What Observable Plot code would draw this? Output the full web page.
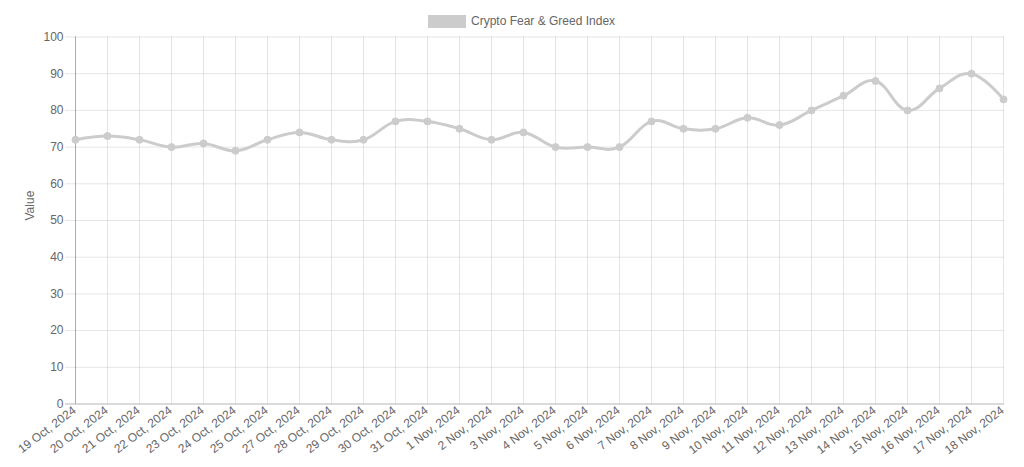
<!DOCTYPE html>
<html>
<head>
<meta charset="utf-8">
<script src="https://cdn.jsdelivr.net/npm/d3@7"></script>
<script src="https://cdn.jsdelivr.net/npm/@observablehq/plot@0.6"></script>
<style>
  html, body { margin: 0; padding: 0; background: #fff; }
  body { width: 1024px; height: 467px; overflow: hidden; font-family: "Liberation Sans", Arial, Helvetica, sans-serif; }
  #legend { position: relative; height: 30px; }
  #legend .box { position: absolute; left: 428px; top: 15px; width: 38px; height: 13px; background: #cccccc; }
  #legend .lbl { position: absolute; left: 471px; top: 14px; font-size: 12px; color: #666; line-height: 14px; }
  #chart svg { display: block; }
</style>
</head>
<body>
<div id="legend"><div class="box"></div><div class="lbl">Crypto Fear &amp; Greed Index</div></div>
<div id="chart"></div>
<script>
const dates = ["19 Oct, 2024","20 Oct, 2024","21 Oct, 2024","22 Oct, 2024","23 Oct, 2024","24 Oct, 2024","25 Oct, 2024","27 Oct, 2024","28 Oct, 2024","29 Oct, 2024","30 Oct, 2024","31 Oct, 2024","1 Nov, 2024","2 Nov, 2024","3 Nov, 2024","4 Nov, 2024","5 Nov, 2024","6 Nov, 2024","7 Nov, 2024","8 Nov, 2024","9 Nov, 2024","10 Nov, 2024","11 Nov, 2024","12 Nov, 2024","13 Nov, 2024","14 Nov, 2024","15 Nov, 2024","16 Nov, 2024","17 Nov, 2024","18 Nov, 2024"];
const values = [72,73,72,70,71,69,72,74,72,72,77,77,75,72,74,70,70,70,77,75,75,78,76,80,84,88,80,86,90,83];
const yTicks = [0,10,20,30,40,50,60,70,80,90,100];
const seriesName = "Crypto Fear & Greed Index";
const yLabel = "Value";

const data = dates.map((d, i) => ({date: d, value: values[i]}));
const font = "Liberation Sans, Arial, Helvetica, sans-serif";

const chart = Plot.plot({
  width: 1024,
  height: 437,
  marginTop: 6.5,
  marginBottom: 63.5,
  marginLeft: 73,
  marginRight: 20,
  style: {fontFamily: font, fontSize: "12px", color: "#666", background: "#fff", overflow: "visible"},
  x: {type: "point", domain: dates, padding: 0},
  y: {domain: [0, 100]},
  marks: [
    Plot.gridX(dates, {stroke: "#000", strokeOpacity: 0.1, strokeWidth: 1}),
    Plot.ruleY(yTicks, {stroke: "#000", strokeOpacity: 0.1, strokeWidth: 1, insetLeft: -8}),
    Plot.ruleY([0], {stroke: "#000", strokeOpacity: 0.2, strokeWidth: 1, insetLeft: -8}),
    Plot.ruleX([dates[0]], {stroke: "#000", strokeOpacity: 0.25, strokeWidth: 1}),
    Plot.axisY(yTicks, {tickSize: 0, tickPadding: 10, fill: "#666", fontSize: 12, label: null}),
    Plot.axisX(dates, {tickSize: 0, tickPadding: 5, dx: -1, tickRotate: -37, fill: "#666", fontSize: 12, label: null}),
    Plot.text([yLabel], {frameAnchor: "left", dx: -43, rotate: -90, fill: "#666", fontSize: 12}),
    Plot.line(data, {x: "date", y: "value", stroke: "#cccccc", strokeWidth: 3, curve: "cardinal", tension: -0.2}),
    Plot.dot(data, {x: "date", y: "value", r: 3.5, fill: "#cccccc", stroke: "#cccccc", strokeWidth: 1})
  ]
});
document.getElementById("chart").appendChild(chart);
</script>
</body>
</html>
